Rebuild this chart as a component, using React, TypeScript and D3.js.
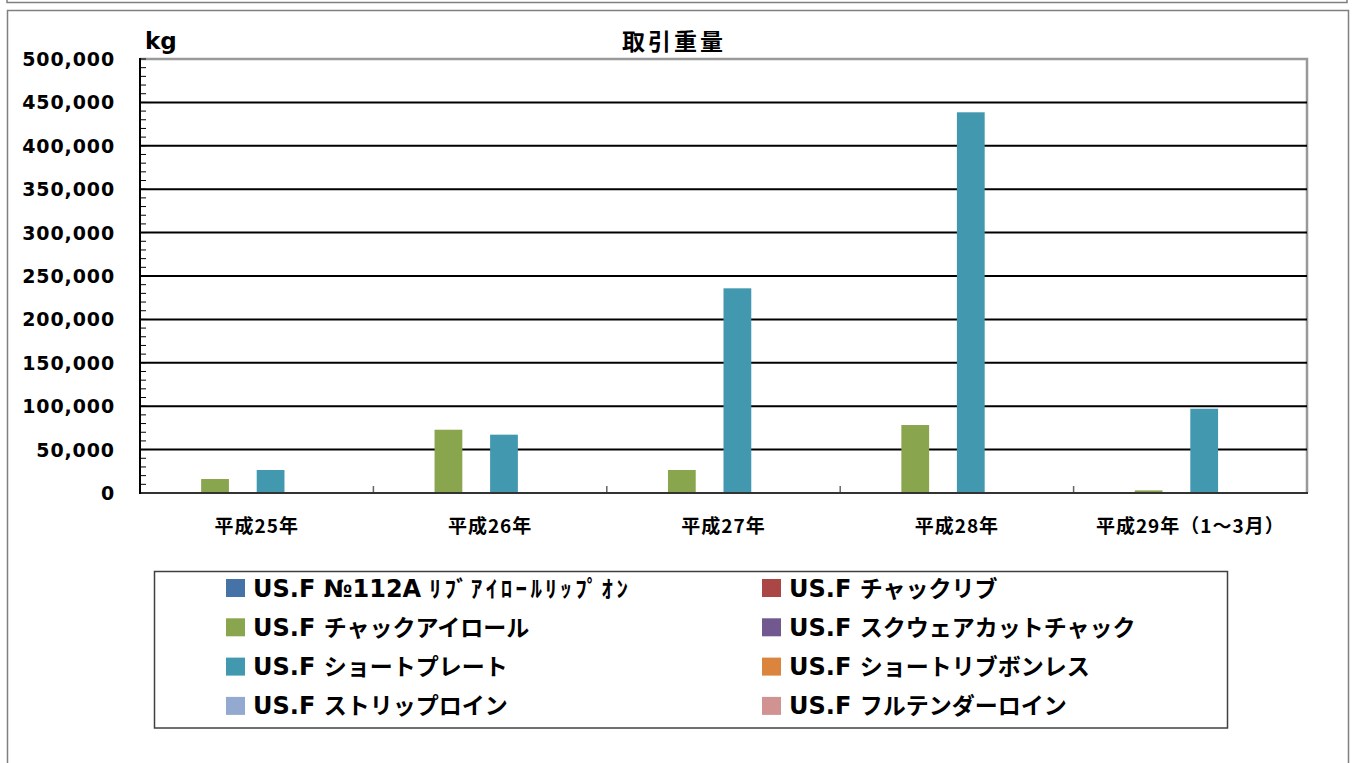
import React from 'react';
import * as d3 from 'd3';

const categories = ['平成25年', '平成26年', '平成27年', '平成28年', '平成29年（1～3月）'];

const seriesNames = [
  'ﾘﾌﾞｱｲﾛｰﾙﾘｯﾌﾟｵﾝ',
  'チャックリブ',
  'チャックアイロール',
  'スクウェアカットチャック',
  'ショートプレート',
  'ショートリブボンレス',
  'ストリップロイン',
  'フルテンダーロイン',
];
const seriesPrefix = ['US.F №112A ', 'US.F ', 'US.F ', 'US.F ', 'US.F ', 'US.F ', 'US.F ', 'US.F '];
const seriesColors = ['#4572A7', '#AA4643', '#89A54E', '#71588F', '#4198AF', '#DB843D', '#93A9CF', '#D19392'];

const ribEyeRollLipOn = [0, 0, 0, 0, 0];
const chuckRib = [0, 0, 0, 0, 0];
const chuckEyeRoll = [16100, 72900, 26500, 78300, 3000];
const squareCutChuck = [0, 0, 0, 0, 0];
const shortPlate = [26500, 67200, 235800, 438600, 97100];
const shortRibBoneless = [0, 0, 0, 0, 0];
const stripLoin = [0, 0, 0, 0, 0];
const fullTenderloin = [0, 0, 0, 0, 0];
const seriesValues = [ribEyeRollLipOn, chuckRib, chuckEyeRoll, squareCutChuck, shortPlate, shortRibBoneless, stripLoin, fullTenderloin];

const yTicks = [0, 50000, 100000, 150000, 200000, 250000, 300000, 350000, 400000, 450000, 500000];
const yMinorTicks = d3.range(0, 500001, 10000);

const W = 1353;
const H = 763;
const plot = { left: 140, right: 1307, top: 59, bottom: 493 };

export default function App() {
  const x = d3.scaleBand<string>().domain(categories).range([plot.left, plot.right]).paddingInner(0).paddingOuter(0);
  const y = d3.scaleLinear().domain([0, 500000]).range([plot.bottom, plot.top]);
  const bw = x.bandwidth();
  const gap = bw * 0.024;
  const sub = d3.scaleBand<number>().domain(d3.range(8)).range([gap, bw - gap]).padding(0);
  const fmt = d3.format(',');
  const jp = '"Noto Sans CJK JP", sans-serif';
  const latin = '"DejaVu Sans", Verdana, sans-serif';

  const legendX = [226, 762];
  const legendY0 = 587.5;
  const legendDy = 39.3;

  return (
    <div style={{ position: 'absolute', left: 0, top: 0, width: W, height: H, background: '#fff' }}>
      <svg width={W} height={H} style={{ display: 'block' }}>
        <rect x={0} y={0} width={W} height={H} fill="#fff" />
        {/* previous frame bottom */}
        <path d={`M7,0 V2.5 H1347 V0`} fill="none" stroke="#808080" strokeWidth={1.5} />
        {/* chart frame */}
        <path d={`M7.5,${H + 2} V10.5 H1348.5 V${H + 2}`} fill="none" stroke="#808080" strokeWidth={1.5} />

        {/* title */}
        <text x={674} y={50} textAnchor="middle" fontFamily={jp} fontWeight={700} fontSize={23} letterSpacing={3}>取引重量</text>
        <text x={145} y={49} fontFamily={latin} fontWeight={700} fontSize={23}>kg</text>

        {/* plot border top/right */}
        <path d={`M${plot.left},${plot.top} H${plot.right} V${plot.bottom}`} fill="none" stroke="#999" strokeWidth={2.5} />

        {/* gridlines */}
        {yTicks.filter(t => t > 0 && t < 500000).map(t => (
          <line key={t} x1={plot.left} x2={plot.right} y1={y(t)} y2={y(t)} stroke="#000" strokeWidth={2} />
        ))}

        {/* bars */}
        {seriesValues.map((vals, si) =>
          vals.map((v, ci) => v > 0 ? (
            <rect key={`${si}-${ci}`} x={(x(categories[ci]) as number) + (sub(si) as number)} y={y(v)}
              width={sub.bandwidth()} height={plot.bottom - y(v)} fill={seriesColors[si]} />
          ) : null)
        )}

        {/* minor ticks */}
        {yMinorTicks.map(t => (
          <line key={t} x1={plot.left} x2={plot.left + 6} y1={y(t)} y2={y(t)} stroke="#000" strokeWidth={1} />
        ))}

        {/* x category ticks */}
        {categories.slice(1).map(c => (
          <line key={c} x1={x(c) as number} x2={x(c) as number} y1={plot.bottom} y2={plot.bottom - 7} stroke="#666" strokeWidth={1.5} />
        ))}

        {/* axes */}
        <line x1={plot.left} x2={plot.right + 1} y1={plot.bottom} y2={plot.bottom} stroke="#333" strokeWidth={2} />
        <line x1={plot.left} x2={plot.left} y1={plot.top - 1} y2={plot.bottom + 1} stroke="#000" strokeWidth={2} />

        {/* y labels */}
        {yTicks.map(t => (
          <text key={t} x={115} y={y(t) + 7} textAnchor="end" fontFamily={latin} fontWeight={700} fontSize={19} letterSpacing={0.9}>{fmt(t)}</text>
        ))}

        {/* x labels */}
        {categories.map(c => (
          <text key={c} x={(x(c) as number) + bw / 2} y={533} textAnchor="middle" fontFamily={jp} fontWeight={700} fontSize={19} letterSpacing={1}>{c}</text>
        ))}

        {/* legend */}
        <rect x={154.5} y={571.5} width={1073} height={156.5} fill="#fff" stroke="#404040" strokeWidth={1.5} />
        {seriesNames.map((n, i) => {
          const col = i % 2;
          const row = Math.floor(i / 2);
          const lx = legendX[col];
          const ly = legendY0 + row * legendDy;
          return (
            <g key={n}>
              <rect x={lx} y={ly - 8.5} width={19} height={18} fill={seriesColors[i]} />
              <text x={lx + 27} y={ly + 9} fontWeight={700}>
                <tspan fontFamily={latin} fontSize={24}>{seriesPrefix[i]}</tspan>
                <tspan fontFamily={jp} fontSize={23} letterSpacing={i === 0 ? 3.4 : 0}>{n}</tspan>
              </text>
            </g>
          );
        })}
      </svg>
    </div>
  );
}
